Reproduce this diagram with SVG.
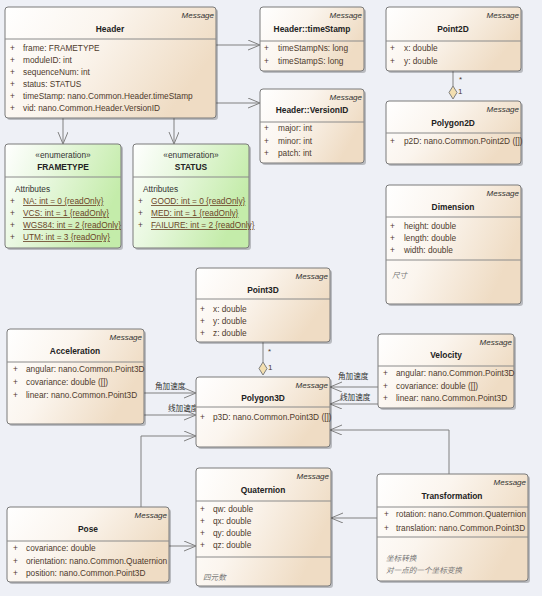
<svg xmlns="http://www.w3.org/2000/svg" width="542" height="596" viewBox="0 0 542 596">
<style>
text{font-family:"Liberation Sans",Arial,sans-serif;font-size:8.3px;fill:#4e3a2c}
.t{font-weight:bold;text-anchor:middle;fill:#222;font-size:8.4px}
.m{font-style:italic;text-anchor:end;fill:#333;font-size:8px}
.st{text-anchor:middle;fill:#333}
.n{font-style:italic;fill:#777;font-size:7.6px;font-family:"Liberation Sans","Noto Sans CJK SC",sans-serif}
.cj{font-family:"Liberation Sans","Noto Sans CJK SC",sans-serif;fill:#333;font-size:7.6px}
.u{text-decoration:underline;fill:#6b4528}
.box{fill:url(#g);stroke:#7a7a7a;stroke-width:1}
.en{fill:url(#gg);stroke:#7a7a7a;stroke-width:1}
.sh{fill:#000;opacity:0.22}
.dv{stroke:#8a8a8a;stroke-width:1}
.c{fill:none;stroke:#808080;stroke-width:1}
</style>
<defs>
<linearGradient id="g" x1="0" y1="0" x2="1" y2="0.4">
<stop offset="0" stop-color="#ffffff"/><stop offset="0.45" stop-color="#fbf5ee"/><stop offset="1" stop-color="#efdcc4"/>
</linearGradient>
<linearGradient id="gg" x1="0" y1="0" x2="1" y2="0.4">
<stop offset="0" stop-color="#ffffff"/><stop offset="0.4" stop-color="#e9f8e0"/><stop offset="1" stop-color="#c4ecaa"/>
</linearGradient>
<marker id="a" markerUnits="userSpaceOnUse" markerWidth="14" markerHeight="12" refX="12" refY="5" orient="auto">
<path d="M0,0 L12,5 L0,10" fill="none" stroke="#808080" stroke-width="1"/>
</marker>
</defs>
<rect width="542" height="596" fill="#eef0f6"/>

<g id="connectors">
<line class="c" x1="216" y1="45" x2="260" y2="45" marker-end="url(#a)"/>
<line class="c" x1="216" y1="103" x2="260" y2="103" marker-end="url(#a)"/>
<line class="c" x1="63" y1="118" x2="63" y2="144" marker-end="url(#a)"/>
<line class="c" x1="174" y1="118" x2="174" y2="144" marker-end="url(#a)"/>
<line class="c" x1="453" y1="71" x2="453" y2="86"/>
<path d="M453,86 L457,92.5 L453,99 L449,92.5 Z" fill="#f3dfb0" stroke="#808080"/>
<text x="459" y="82" style="font-size:8px">*</text>
<text x="458" y="94" style="font-size:8px">1</text>
<line class="c" x1="263" y1="342" x2="263" y2="362"/>
<path d="M263,362 L267,368.5 L263,375 L259,368.5 Z" fill="#f3dfb0" stroke="#808080"/>
<text x="268" y="354" style="font-size:8px">*</text>
<text x="268" y="370" style="font-size:8px">1</text>
<line class="c" x1="144" y1="393" x2="196" y2="393" marker-end="url(#a)"/>
<text class="cj" x="155" y="389">角加速度</text>
<line class="c" x1="144" y1="415" x2="196" y2="415" marker-end="url(#a)"/>
<text class="cj" x="168" y="411">线加速度</text>
<line class="c" x1="378" y1="387" x2="330" y2="387" marker-end="url(#a)"/>
<text class="cj" x="338" y="379">角加速度</text>
<line class="c" x1="378" y1="404" x2="330" y2="404" marker-end="url(#a)"/>
<text class="cj" x="340" y="400">线加速度</text>
<path class="c" d="M449,474 L449,430 L330,430" marker-end="url(#a)"/>
<path class="c" d="M141,507 L141,436 L196,436" marker-end="url(#a)"/>
<line class="c" x1="377" y1="518" x2="331" y2="518" marker-end="url(#a)"/>
<line class="c" x1="169" y1="546" x2="196" y2="546" marker-end="url(#a)"/>
</g>

<g id="Header">
<rect class="sh" x="7" y="9" width="211" height="111" rx="3"/>
<rect class="box" x="5" y="7" width="211" height="111" rx="3"/>
<text class="m" x="214" y="18">Message</text>
<text class="t" x="110" y="32">Header</text>
<line class="dv" x1="5" y1="39" x2="216" y2="39"/>
<text x="10" y="51">+</text><text x="23" y="51">frame: FRAMETYPE</text>
<text x="10" y="63">+</text><text x="23" y="63">moduleID: int</text>
<text x="10" y="75">+</text><text x="23" y="75">sequenceNum: int</text>
<text x="10" y="87">+</text><text x="23" y="87">status: STATUS</text>
<text x="10" y="99">+</text><text x="23" y="99">timeStamp: nano.Common.Header.timeStamp</text>
<text x="10" y="111">+</text><text x="23" y="111">vid: nano.Common.Header.VersionID</text>
</g>

<g id="HeaderTimeStamp">
<rect class="sh" x="262" y="9" width="104" height="64" rx="3"/>
<rect class="box" x="260" y="7" width="104" height="64" rx="3"/>
<text class="m" x="362" y="18">Message</text>
<text class="t" x="312" y="32">Header::timeStamp</text>
<line class="dv" x1="260" y1="41" x2="364" y2="41"/>
<text x="264" y="51">+</text><text x="278" y="51">timeStampNs: long</text>
<text x="264" y="64">+</text><text x="278" y="64">timeStampS: long</text>
</g>

<g id="HeaderVersionID">
<rect class="sh" x="262" y="91" width="104" height="74" rx="3"/>
<rect class="box" x="260" y="89" width="104" height="74" rx="3"/>
<text class="m" x="362" y="100">Message</text>
<text class="t" x="312" y="113">Header::VersionID</text>
<line class="dv" x1="260" y1="122" x2="364" y2="122"/>
<text x="264" y="131">+</text><text x="278" y="131">major: int</text>
<text x="264" y="144">+</text><text x="278" y="144">minor: int</text>
<text x="264" y="156">+</text><text x="278" y="156">patch: int</text>
</g>

<g id="Point2D">
<rect class="sh" x="388" y="9" width="135" height="64" rx="3"/>
<rect class="box" x="386" y="7" width="135" height="64" rx="3"/>
<text class="m" x="519" y="18">Message</text>
<text class="t" x="453" y="32">Point2D</text>
<line class="dv" x1="386" y1="41" x2="521" y2="41"/>
<text x="390" y="51">+</text><text x="404" y="51">x: double</text>
<text x="390" y="64">+</text><text x="404" y="64">y: double</text>
</g>

<g id="Polygon2D">
<rect class="sh" x="388" y="103" width="135" height="63" rx="3"/>
<rect class="box" x="386" y="101" width="135" height="63" rx="3"/>
<text class="m" x="519" y="112">Message</text>
<text class="t" x="453" y="126">Polygon2D</text>
<line class="dv" x1="386" y1="133" x2="521" y2="133"/>
<text x="390" y="144">+</text><text x="404" y="144">p2D: nano.Common.Point2D ([])</text>
</g>

<g id="FRAMETYPE">
<rect class="sh" x="7" y="146" width="116" height="104" rx="3"/>
<rect class="en" x="5" y="144" width="116" height="104" rx="3"/>
<text class="st" x="63" y="158">«enumeration»</text>
<text class="t" x="63" y="170">FRAMETYPE</text>
<line class="dv" x1="5" y1="177" x2="121" y2="177"/>
<text x="15" y="192" style="fill:#333">Attributes</text>
<text x="10" y="204">+</text><text class="u" x="23" y="204">NA: int = 0 {readOnly}</text>
<text x="10" y="216">+</text><text class="u" x="23" y="216">VCS: int = 1 {readOnly}</text>
<text x="10" y="228">+</text><text class="u" x="23" y="228">WGS84: int = 2 {readOnly}</text>
<text x="10" y="240">+</text><text class="u" x="23" y="240">UTM: int = 3 {readOnly}</text>
</g>

<g id="STATUS">
<rect class="sh" x="135" y="146" width="116" height="104" rx="3"/>
<rect class="en" x="133" y="144" width="116" height="104" rx="3"/>
<text class="st" x="191" y="158">«enumeration»</text>
<text class="t" x="191" y="170">STATUS</text>
<line class="dv" x1="133" y1="177" x2="249" y2="177"/>
<text x="143" y="192" style="fill:#333">Attributes</text>
<text x="138" y="204">+</text><text class="u" x="151" y="204">GOOD: int = 0 {readOnly}</text>
<text x="138" y="216">+</text><text class="u" x="151" y="216">MED: int = 1 {readOnly}</text>
<text x="138" y="228">+</text><text class="u" x="151" y="228">FAILURE: int = 2 {readOnly}</text>
</g>

<g id="Dimension">
<rect class="sh" x="388" y="187" width="135" height="119" rx="3"/>
<rect class="box" x="386" y="185" width="135" height="119" rx="3"/>
<text class="m" x="519" y="196">Message</text>
<text class="t" x="453" y="210">Dimension</text>
<line class="dv" x1="386" y1="217" x2="521" y2="217"/>
<text x="390" y="229">+</text><text x="404" y="229">height: double</text>
<text x="390" y="241">+</text><text x="404" y="241">length: double</text>
<text x="390" y="253">+</text><text x="404" y="253">width: double</text>
<line class="dv" x1="386" y1="260" x2="521" y2="260"/>
<text class="n" x="392" y="278">尺寸</text>
</g>

<g id="Point3D">
<rect class="sh" x="198" y="270" width="134" height="74" rx="3"/>
<rect class="box" x="196" y="268" width="134" height="74" rx="3"/>
<text class="m" x="328" y="279">Message</text>
<text class="t" x="263" y="293">Point3D</text>
<line class="dv" x1="196" y1="299" x2="330" y2="299"/>
<text x="200" y="312">+</text><text x="213" y="312">x: double</text>
<text x="200" y="324">+</text><text x="213" y="324">y: double</text>
<text x="200" y="336">+</text><text x="213" y="336">z: double</text>
</g>

<g id="Polygon3D">
<rect class="sh" x="198" y="379" width="134" height="70" rx="3"/>
<rect class="box" x="196" y="377" width="134" height="70" rx="3"/>
<text class="m" x="328" y="388">Message</text>
<text class="t" x="263" y="401">Polygon3D</text>
<line class="dv" x1="196" y1="407" x2="330" y2="407"/>
<text x="200" y="420">+</text><text x="213" y="420">p3D: nano.Common.Point3D ([])</text>
</g>

<g id="Acceleration">
<rect class="sh" x="9" y="331" width="137" height="95" rx="3"/>
<rect class="box" x="7" y="329" width="137" height="95" rx="3"/>
<text class="m" x="142" y="340">Message</text>
<text class="t" x="75" y="354">Acceleration</text>
<line class="dv" x1="7" y1="362" x2="144" y2="362"/>
<text x="13" y="372">+</text><text x="26" y="372">angular: nano.Common.Point3D</text>
<text x="13" y="385">+</text><text x="26" y="385">covariance: double ([])</text>
<text x="13" y="398">+</text><text x="26" y="398">linear: nano.Common.Point3D</text>
</g>

<g id="Velocity">
<rect class="sh" x="380" y="336" width="136" height="74" rx="3"/>
<rect class="box" x="378" y="334" width="136" height="74" rx="3"/>
<text class="m" x="512" y="345">Message</text>
<text class="t" x="446" y="358">Velocity</text>
<line class="dv" x1="378" y1="366" x2="514" y2="366"/>
<text x="383" y="376">+</text><text x="396" y="376">angular: nano.Common.Point3D</text>
<text x="383" y="389">+</text><text x="396" y="389">covariance: double ([])</text>
<text x="383" y="401">+</text><text x="396" y="401">linear: nano.Common.Point3D</text>
</g>

<g id="Quaternion">
<rect class="sh" x="198" y="470" width="135" height="118" rx="3"/>
<rect class="box" x="196" y="468" width="135" height="118" rx="3"/>
<text class="m" x="329" y="479">Message</text>
<text class="t" x="263" y="493">Quaternion</text>
<line class="dv" x1="196" y1="501" x2="331" y2="501"/>
<text x="200" y="512">+</text><text x="213" y="512">qw: double</text>
<text x="200" y="524">+</text><text x="213" y="524">qx: double</text>
<text x="200" y="536">+</text><text x="213" y="536">qy: double</text>
<text x="200" y="548">+</text><text x="213" y="548">qz: double</text>
<line class="dv" x1="196" y1="557" x2="331" y2="557"/>
<text class="n" x="203" y="580">四元数</text>
</g>

<g id="Pose">
<rect class="sh" x="9" y="509" width="162" height="75" rx="3"/>
<rect class="box" x="7" y="507" width="162" height="75" rx="3"/>
<text class="m" x="167" y="518">Message</text>
<text class="t" x="88" y="532">Pose</text>
<line class="dv" x1="7" y1="541" x2="169" y2="541"/>
<text x="13" y="551">+</text><text x="26" y="551">covariance: double</text>
<text x="13" y="564">+</text><text x="26" y="564">orientation: nano.Common.Quaternion</text>
<text x="13" y="576">+</text><text x="26" y="576">position: nano.Common.Point3D</text>
</g>

<g id="Transformation">
<rect class="sh" x="379" y="476" width="151" height="107" rx="3"/>
<rect class="box" x="377" y="474" width="151" height="107" rx="3"/>
<text class="m" x="526" y="485">Message</text>
<text class="t" x="452" y="499">Transformation</text>
<line class="dv" x1="377" y1="507" x2="528" y2="507"/>
<text x="384" y="517">+</text><text x="396" y="517">rotation: nano.Common.Quaternion</text>
<text x="384" y="531">+</text><text x="396" y="531">translation: nano.Common.Point3D</text>
<line class="dv" x1="377" y1="537" x2="528" y2="537"/>
<text class="n" x="386" y="561">坐标转换</text>
<text class="n" x="386" y="573">对一点的一个坐标变换</text>
</g>
</svg>
